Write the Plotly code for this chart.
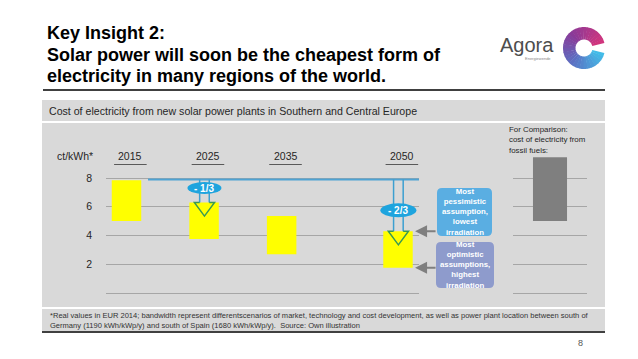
import math
import plotly.graph_objects as go

W, H = 638, 359
FONT = "Liberation Sans, Arial, sans-serif"

# ---------------- data ----------------
years = [2015, 2025, 2035, 2050]
year_labels = ["2015", "2025", "2035", "2050"]
cost_low = [5.0, 3.75, 2.7, 1.75]      # ct/kWh, lower end of band
cost_high = [7.85, 6.3, 5.35, 4.3]     # ct/kWh, upper end of band
fossil_low = [5.0]
fossil_high = [9.45]
ref_level = 7.9                         # today's upper level, drawn as blue line
reduction_years = [2025, 2050]
reduction_text = ["- 1/3", "- 2/3"]
reduction_label_y = [7.3, 5.75]
y_ticks = [0, 2, 4, 6, 8]
y_tick_text = ["", "2", "4", "6", "8"]

# ---------------- geometry helpers (pixel -> paper) ----------------
def fx(p):
    return p / W

def fy(p):
    return 1 - p / H

PX_PER_YEAR = 7.757
X_ORIGIN_PX = 126.5           # pixel position of 2015
def year_at(p):
    return 2015 + (p - X_ORIGIN_PX) / PX_PER_YEAR

PX_PER_UNIT = 14.375
Y0_PX = 293.0                 # pixel position of value 0
Y_RANGE = [-0.3, 9.7]
y_dom = [fy(Y0_PX - Y_RANGE[0] * PX_PER_UNIT), fy(Y0_PX - Y_RANGE[1] * PX_PER_UNIT)]
x_range = [year_at(106), year_at(419)]
x_dom = [fx(106), fx(419)]
x2_dom = [fx(513), fx(587)]

BAR_W = 3.8   # years
half = BAR_W / 2

fig = go.Figure()

fig.add_trace(go.Bar(
    x=years, y=[h - l for h, l in zip(cost_high, cost_low)], base=cost_low,
    width=BAR_W, marker=dict(color="#ffff00", line=dict(width=0)),
    xaxis="x", yaxis="y", hoverinfo="skip", showlegend=False))

fig.add_trace(go.Scatter(
    x=[years[0] + half + 0.87, x_range[1]], y=[ref_level, ref_level],
    mode="lines", line=dict(color="#4fa3d3", width=2),
    xaxis="x", yaxis="y", hoverinfo="skip", showlegend=False))

fig.add_trace(go.Bar(
    x=[0.5], y=[h - l for h, l in zip(fossil_high, fossil_low)], base=fossil_low,
    width=0.46, marker=dict(color="#7f7f7f", line=dict(width=0)),
    xaxis="x2", yaxis="y2", hoverinfo="skip", showlegend=False))

shapes = []
annotations = []

def rect(x0, y0, x1, y1, color):
    shapes.append(dict(type="rect", xref="paper", yref="paper",
                       x0=fx(x0), x1=fx(x1), y0=fy(y1), y1=fy(y0),
                       fillcolor=color, line=dict(width=0), layer="below"))

def rrect_path(x0, y0, x1, y1, r):
    pts = [
        ("M", x0 + r, y0), ("L", x1 - r, y0), ("Q", x1, y0, x1, y0 + r),
        ("L", x1, y1 - r), ("Q", x1, y1, x1 - r, y1), ("L", x0 + r, y1),
        ("Q", x0, y1, x0, y1 - r), ("L", x0, y0 + r), ("Q", x0, y0, x0 + r, y0)]
    s = ""
    for p in pts:
        if p[0] == "Q":
            s += "Q%.5f,%.5f %.5f,%.5f " % (fx(p[1]), fy(p[2]), fx(p[3]), fy(p[4]))
        else:
            s += "%s%.5f,%.5f " % (p[0], fx(p[1]), fy(p[2]))
    return s + "Z"

# panels
rect(42, 100, 605, 121, "#d9d9d9")
rect(42, 123, 605, 307, "#d9d9d9")
rect(42, 309, 605, 331, "#d9d9d9")
# lines
shapes.append(dict(type="line", xref="paper", yref="paper", x0=fx(43), x1=fx(605),
                   y0=fy(90), y1=fy(90), line=dict(color="#000000", width=1.5)))
shapes.append(dict(type="line", xref="paper", yref="paper", x0=fx(42), x1=fx(605),
                   y0=fy(332), y1=fy(332), line=dict(color="#000000", width=1.5)))

# year labels and underlines
for yr, lab in zip(years, year_labels):
    xc = yr + 0.5
    annotations.append(dict(x=xc, y=fy(156), xref="x", yref="paper", text=lab,
                            showarrow=False, font=dict(size=10.5, color="#262626", family=FONT),
                            xanchor="center", yanchor="middle"))
    shapes.append(dict(type="line", xref="x", yref="paper", x0=xc - 2.1, x1=xc + 2.1,
                       y0=fy(164.5), y1=fy(164.5), line=dict(color="#595959", width=1)))

annotations.append(dict(x=fx(75), y=fy(156), xref="paper", yref="paper", text="ct/kWh*",
                        showarrow=False, font=dict(size=10.5, color="#262626", family=FONT),
                        xanchor="center", yanchor="middle"))

# reduction arrows
ell_size = [(34, 12), (36, 14)]
for k, (yr, txt, ly) in enumerate(zip(reduction_years, reduction_text, reduction_label_y)):
    i = years.index(yr)
    top = cost_high[i]
    xc = yr + 0.05
    sw, hw, hl = 0.62, 1.3, 0.95
    shaft = "M%f,%f L%f,%f M%f,%f L%f,%f" % (xc - sw, ref_level, xc - sw, top,
                                             xc + sw, ref_level, xc + sw, top)
    shapes.append(dict(type="path", xref="x", yref="y", path=shaft,
                       line=dict(color="#3c9fd0", width=1.5)))
    head = "M%f,%f L%f,%f L%f,%f L%f,%f L%f,%f" % (xc - sw, top, xc - hw, top, xc, top - hl,
                                                   xc + hw, top, xc + sw, top)
    shapes.append(dict(type="path", xref="x", yref="y", path=head,
                       line=dict(color="#3a9a52", width=1.5)))
    ew, eh = ell_size[k]
    ewy, ehy = ew / PX_PER_YEAR / 2, eh / PX_PER_UNIT / 2
    shapes.append(dict(type="circle", xref="x", yref="y", x0=xc - ewy, x1=xc + ewy,
                       y0=ly - ehy, y1=ly + ehy, fillcolor="#1ea4de", line=dict(width=0)))
    annotations.append(dict(x=xc, y=ly, xref="x", yref="y", text="<b>%s</b>" % txt,
                            showarrow=False, font=dict(size=10, color="white", family=FONT),
                            xanchor="center", yanchor="middle"))

# callout boxes
shapes.append(dict(type="path", xref="paper", yref="paper",
                   path=rrect_path(437, 188, 492, 236, 5), fillcolor="#5aaee2",
                   line=dict(width=0)))
shapes.append(dict(type="path", xref="paper", yref="paper",
                   path=rrect_path(436, 242, 494, 288, 5), fillcolor="#8e9bcc",
                   line=dict(width=0)))
annotations.append(dict(x=fx(464.5), y=fy(212), xref="paper", yref="paper",
                        text="<b>Most<br>pessimistic<br>assumption,<br>lowest<br>irradiation</b>",
                        showarrow=False, font=dict(size=7.8, color="white", family=FONT),
                        xanchor="center", yanchor="middle", align="center"))
annotations.append(dict(x=fx(465), y=fy(265), xref="paper", yref="paper",
                        text="<b>Most<br>optimistic<br>assumptions,<br>highest<br>irradiation</b>",
                        showarrow=False, font=dict(size=7.8, color="white", family=FONT),
                        xanchor="center", yanchor="middle", align="center"))
# grey pointer arrows to the 2050 band ends
i50 = years.index(2050)
for val in (cost_high[i50], cost_low[i50]):
    annotations.append(dict(x=2050 + half + 0.3, y=val, xref="x", yref="y", text="",
                            showarrow=True, arrowhead=2, arrowsize=1.2, arrowwidth=2,
                            arrowcolor="#7f7f7f", ax=22, ay=0, standoff=0))

# comparison text
annotations.append(dict(x=fx(507), y=fy(123), xref="paper", yref="paper",
                        text="For Comparison:<br>cost of electricity from<br>fossil fuels:",
                        showarrow=False, font=dict(size=7.9, color="#262626", family=FONT),
                        xanchor="left", yanchor="top", align="left"))

# header bar text
annotations.append(dict(x=fx(47), y=fy(111), xref="paper", yref="paper",
                        text="Cost of electricity from new solar power plants in Southern and Central Europe",
                        showarrow=False, font=dict(size=10.6, color="#262626", family=FONT),
                        xanchor="left", yanchor="middle"))

# title
for txt, yy in zip(["Key Insight 2:", "Solar power will soon be the cheapest form of",
                    "electricity in many regions of the world."], [33, 54.5, 76]):
    annotations.append(dict(x=fx(45), y=fy(yy), xref="paper", yref="paper",
                            text="<b>%s</b>" % txt, showarrow=False,
                            font=dict(size=18, color="#000000", family=FONT),
                            xanchor="left", yanchor="middle"))

# footnote
annotations.append(dict(x=fx(48), y=fy(320), xref="paper", yref="paper",
                        text="*Real values in EUR 2014; bandwidth represent differentscenarios of market, technology and cost development, as well as power plant location between south of<br>Germany (1190 kWh/kWp/y) and south of Spain (1680 kWh/kWp/y).  Source: Own illustration",
                        showarrow=False, font=dict(size=7.55, color="#333333", family=FONT),
                        xanchor="left", yanchor="middle", align="left"))
# page number
annotations.append(dict(x=fx(580), y=fy(343), xref="paper", yref="paper", text="8",
                        showarrow=False, font=dict(size=9, color="#555555", family=FONT),
                        xanchor="center", yanchor="middle"))

# logo
annotations.append(dict(x=fx(498), y=fy(45), xref="paper", yref="paper", text="Agora",
                        showarrow=False, font=dict(size=20, color="#4d4d4d", family=FONT),
                        xanchor="left", yanchor="middle"))
annotations.append(dict(x=fx(553), y=fy(58), xref="paper", yref="paper", text="Energiewende",
                        showarrow=False, font=dict(size=4, color="#888888", family=FONT),
                        xanchor="right", yanchor="middle"))

def lerp_color(stops, t):
    for (t0, c0), (t1, c1) in zip(stops[:-1], stops[1:]):
        if t0 <= t <= t1:
            u = (t - t0) / (t1 - t0)
            a = [int(c0[j:j + 2], 16) for j in (1, 3, 5)]
            b = [int(c1[j:j + 2], 16) for j in (1, 3, 5)]
            return "#%02x%02x%02x" % tuple(int(round(a[m] + (b[m] - a[m]) * u)) for m in range(3))
    return stops[-1][1]

stops = [(0, "#d4357c"), (0.35, "#8a3a98"), (0.65, "#5c6fc2"), (1, "#42c0ea")]
cx, cy, ro, ri = 584, 48, 21, 8.5
a_start, a_end = 14, 346
nseg = 30
for s in range(nseg):
    a0 = math.radians(a_start + (a_end - a_start) * s / nseg)
    a1 = math.radians(a_start + (a_end - a_start) * (s + 1.15) / nseg if s < nseg - 1 else a_end)
    pts = []
    nsub = 4
    for j in range(nsub + 1):
        a = a0 + (a1 - a0) * j / nsub
        pts.append((cx + ro * math.cos(a), cy - ro * math.sin(a)))
    for j in range(nsub, -1, -1):
        a = a0 + (a1 - a0) * j / nsub
        pts.append((cx + ri * math.cos(a), cy - ri * math.sin(a)))
    path = "M" + " L".join("%.5f,%.5f" % (fx(p[0]), fy(p[1])) for p in pts) + " Z"
    col = lerp_color(stops, (s + 0.5) / nseg)
    shapes.append(dict(type="path", xref="paper", yref="paper", path=path,
                       fillcolor=col, line=dict(width=0)))

axis_common = dict(showline=False, zeroline=False, ticks="", fixedrange=True)
fig.update_layout(
    width=W, height=H, margin=dict(l=0, r=0, t=0, b=0),
    paper_bgcolor="white", plot_bgcolor="rgba(0,0,0,0)",
    font=dict(family=FONT, color="#262626"),
    showlegend=False, barmode="overlay",
    xaxis=dict(domain=x_dom, range=x_range, showgrid=False, showticklabels=False,
               anchor="y", **axis_common),
    yaxis=dict(domain=y_dom, range=Y_RANGE, tickvals=y_ticks, ticktext=y_tick_text,
               showgrid=True, gridcolor="#a6a6a6", gridwidth=1, anchor="x",
               ticklabelstandoff=13, tickfont=dict(size=10.5, color="#262626"), **axis_common),
    xaxis2=dict(domain=x2_dom, range=[0, 1], showgrid=False, showticklabels=False,
                anchor="y2", **axis_common),
    yaxis2=dict(domain=y_dom, range=Y_RANGE, tickvals=y_ticks, showgrid=True,
                gridcolor="#a6a6a6", gridwidth=1, showticklabels=False, anchor="x2",
                **axis_common),
    shapes=shapes, annotations=annotations,
)

fig.write_html("out.html", config={"displayModeBar": False},
               post_script="document.body.style.margin='0';document.body.style.overflow='hidden';")
